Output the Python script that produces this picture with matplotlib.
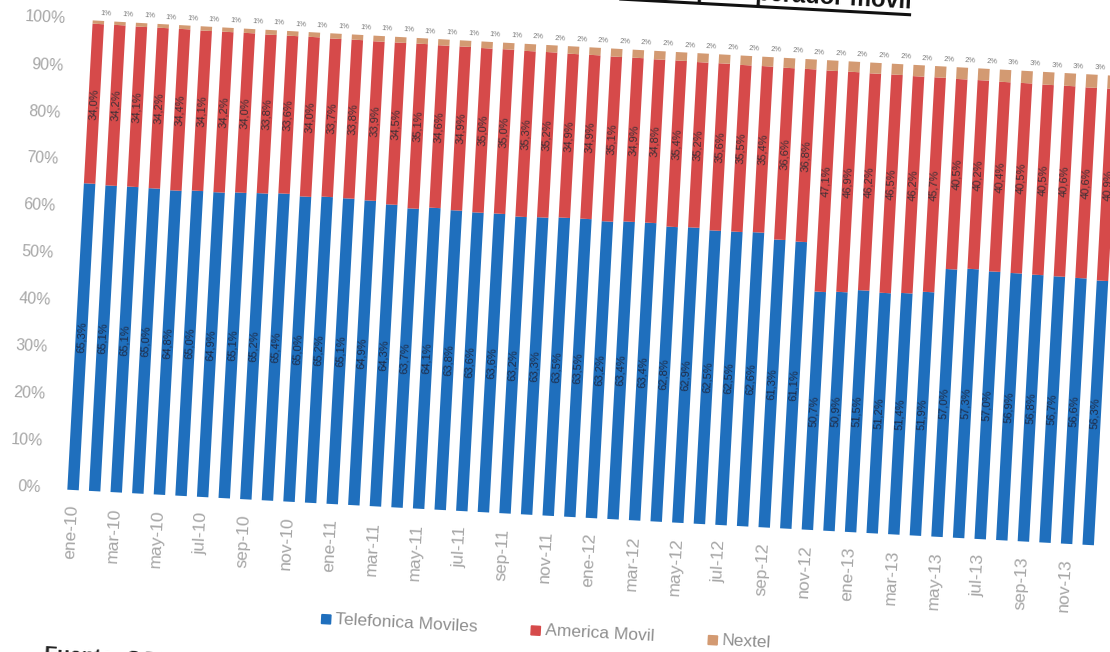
import matplotlib.pyplot as plt
from matplotlib.transforms import Affine2D
from matplotlib.patches import Rectangle

plt.rcParams['font.family'] = ['Liberation Sans', 'DejaVu Sans']

meses = ['ene', 'feb', 'mar', 'abr', 'may', 'jun', 'jul', 'ago', 'sep', 'oct', 'nov', 'dic']
periodos = ['%s-%s' % (m, a) for a in ('10', '11', '12', '13') for m in meses]

# participacion mensual (%) de cada operador
telefonica = [65.3, 65.1, 65.1, 65.0, 64.8, 65.0, 64.9, 65.1, 65.2, 65.4, 65.0, 65.2,
              65.1, 64.9, 64.3, 63.7, 64.1, 63.8, 63.6, 63.6, 63.2, 63.3, 63.5, 63.5,
              63.2, 63.4, 63.4, 62.8, 62.9, 62.5, 62.5, 62.6, 61.3, 61.1, 50.7, 50.9,
              51.5, 51.2, 51.4, 51.9, 57.0, 57.3, 57.0, 56.9, 56.8, 56.7, 56.6, 56.3]
america = [34.0, 34.2, 34.1, 34.2, 34.4, 34.1, 34.2, 34.0, 33.8, 33.6, 34.0, 33.7,
           33.8, 33.9, 34.5, 35.1, 34.6, 34.9, 35.0, 35.0, 35.3, 35.2, 34.9, 34.9,
           35.1, 34.9, 34.8, 35.4, 35.2, 35.6, 35.5, 35.4, 36.6, 36.8, 47.1, 46.9,
           46.2, 46.5, 46.2, 45.7, 40.5, 40.2, 40.4, 40.5, 40.5, 40.6, 40.6, 40.9]
nextel = [0.7, 0.7, 0.8, 0.8, 0.8, 0.9, 0.9, 0.9, 1.0, 1.0, 1.0, 1.1,
          1.1, 1.2, 1.2, 1.2, 1.3, 1.3, 1.4, 1.4, 1.5, 1.5, 1.6, 1.6,
          1.7, 1.7, 1.8, 1.8, 1.9, 1.9, 2.0, 2.0, 2.1, 2.1, 2.2, 2.2,
          2.3, 2.3, 2.4, 2.4, 2.5, 2.5, 2.6, 2.6, 2.7, 2.7, 2.8, 2.8]

operadores = ['Telefonica Moviles', 'America Movil', 'Nextel']
colores = ['#1f6fbd', '#d64a4a', '#d39a72']
ticks_y = [0, 10, 20, 30, 40, 50, 60, 70, 80, 90, 100]

GIRO = -3.1   # la hoja esta ligeramente girada
gris = '#a6a6a6'


def pct(v):
    return ('%.1f%%' % v).replace('.', ',')


fig = plt.figure(figsize=(11.1, 6.52), dpi=100)
ax = fig.add_axes([51.4 / 1110, 162 / 652, 1059.9 / 1110, 470 / 652])
ax.set_xlim(-1, 48)
ax.set_ylim(0, 100)
ax.axis('off')

x = list(range(len(periodos)))
base_n = [t + a for t, a in zip(telefonica, america)]
ax.bar(x, telefonica, 0.53, color=colores[0])
ax.bar(x, america, 0.53, bottom=telefonica, color=colores[1])
ax.bar(x, nextel, 0.53, bottom=base_n, color=colores[2])

for i in x:
    ax.text(i, telefonica[i] / 2, pct(telefonica[i]), rotation=90, ha='center',
            va='center', fontsize=8, color='#1e2c48')
    ax.text(i, telefonica[i] + america[i] / 2, pct(america[i]), rotation=90,
            ha='center', va='center', fontsize=8, color='#3e3036')
    ax.text(i + 0.1, 100.8, '%.0f%%' % nextel[i], ha='left', va='bottom',
            fontsize=5.5, color='#7a7a7a')

# ejes dibujados a mano
for v in ticks_y:
    ax.text(-1.5, v, '%d%%' % v, ha='right', va='center', fontsize=11.5, color=gris)
for i in x[::2]:
    ax.text(i, -3.2, periodos[i], rotation=90, ha='right', va='center',
            fontsize=12.5, color=gris)

# leyenda
for xl, nombre, c in zip([12.0, 21.7, 29.9], operadores, colores):
    ax.add_patch(Rectangle((xl - 0.2, -25.5), 0.42, 1.9, color=c))
    ax.text(xl + 0.45, -24.5, nombre, ha='left', va='center', fontsize=12.5, color='#8f8f8f')

titulo = ax.text(37.5, 111.85, 'Participación de mercado por operador movil',
                 ha='right', va='baseline', fontsize=17, fontweight='bold', color='#111111')
r = fig.canvas.get_renderer()
ancho = titulo.get_window_extent(renderer=r).width / 21.63
ax.plot([37.5 - ancho, 37.5], [110.6, 110.6], color='#111111', lw=2.2,
        solid_capstyle='butt')

ax.text(-0.9, -33.3, 'Fuente: OSIPTEL', ha='left', va='top', fontsize=15,
        fontweight='bold', color='#222222')

giro = Affine2D().rotate_deg_around(*ax.transData.transform((0, 0)), GIRO)
for art in list(ax.patches) + list(ax.texts) + list(ax.lines):
    art.set_transform(ax.transData + giro)
    art.set_clip_on(False)
for t in ax.texts:
    t.set_rotation_mode('anchor')
    t.set_rotation(t.get_rotation() + GIRO)

fig.savefig('out.png', dpi=100)
